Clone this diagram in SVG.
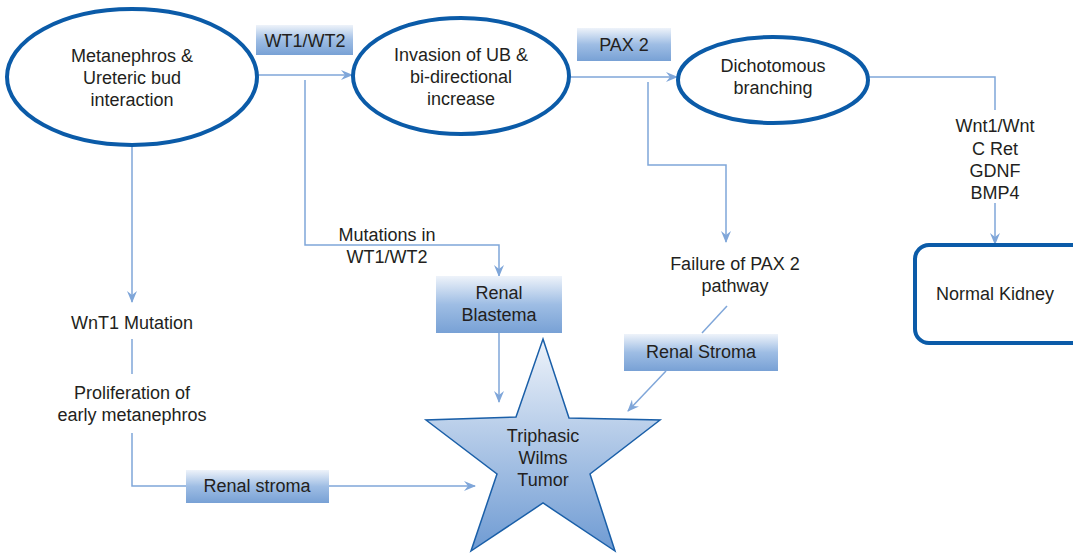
<svg xmlns="http://www.w3.org/2000/svg" width="1073" height="553" viewBox="0 0 1073 553">
<defs>
<linearGradient id="lbl" x1="0" y1="0" x2="0" y2="1">
<stop offset="0" stop-color="#eef3fa"/>
<stop offset="0.5" stop-color="#9ebde4"/>
<stop offset="1" stop-color="#78a1d5"/>
</linearGradient>
<linearGradient id="starg" x1="0" y1="0" x2="0" y2="1">
<stop offset="0" stop-color="#eef3fa"/>
<stop offset="1" stop-color="#6f9bd3"/>
</linearGradient>
<marker id="ah" viewBox="0 0 12 10" refX="11" refY="5" markerWidth="12" markerHeight="10" markerUnits="userSpaceOnUse" orient="auto">
<path d="M0,0 L12,5 L0,10 L4,5 Z" fill="#7fa6d9"/>
</marker>
<style>
text{font-family:"Liberation Sans",Arial,sans-serif;font-size:18px;fill:#231f20;text-anchor:middle}
.ell{fill:#fff;stroke:#0b5ba8;stroke-width:4}
.lbl{fill:url(#lbl)}
.c{fill:none;stroke:#7fa6d9;stroke-width:1.5}
.ca{fill:none;stroke:#7fa6d9;stroke-width:1.5;marker-end:url(#ah)}
</style>
</defs>
<rect width="1073" height="553" fill="#fff"/>
<g id="connectors">
<path class="ca" d="M257,75 H352"/>
<path class="ca" d="M305,80 V245 H499 V276"/>
<path class="ca" d="M499,333 V402"/>
<path class="ca" d="M569,77 H677"/>
<path class="ca" d="M648,82 V165 H726 V242"/>
<path class="c" d="M727,306 L702,333"/>
<path class="ca" d="M666,371 L628,411"/>
<path class="c" d="M868,77 H995 V110"/>
<path class="ca" d="M995,203 V244"/>
<path class="ca" d="M132,147 V302"/>
<path class="c" d="M132,339 V374"/>
<path class="c" d="M132,433 V486 H186"/>
<path class="ca" d="M329,486 H475"/>
</g>
<g id="n-metanephros">
<ellipse class="ell" cx="132" cy="77" rx="125" ry="68"/>
<text x="132" y="62">Metanephros &amp;</text>
<text x="132" y="84">Ureteric bud</text>
<text x="132" y="106">interaction</text>
</g>
<g id="n-invasion">
<ellipse class="ell" cx="461" cy="76" rx="108" ry="58"/>
<text x="461" y="61">Invasion of UB &amp;</text>
<text x="461" y="83">bi-directional</text>
<text x="461" y="105">increase</text>
</g>
<g id="n-dichotomous">
<ellipse class="ell" cx="773" cy="80" rx="95" ry="43"/>
<text x="773" y="72">Dichotomous</text>
<text x="773" y="94">branching</text>
</g>
<g id="n-normal-kidney">
<rect x="915" y="245" width="175" height="98" rx="14" fill="#fff" stroke="#0b5ba8" stroke-width="4"/>
<text x="995" y="300">Normal Kidney</text>
</g>
<g id="l-wt1">
<rect class="lbl" x="256" y="25" width="97" height="30"/>
<text x="305" y="47">WT1/WT2</text>
</g>
<g id="l-pax2">
<rect class="lbl" x="577" y="28" width="94" height="33"/>
<text x="624" y="51">PAX 2</text>
</g>
<g id="t-mutations">
<text x="387" y="241">Mutations in</text>
<text x="387" y="263">WT1/WT2</text>
</g>
<g id="l-blastema">
<rect class="lbl" x="436" y="276" width="126" height="57"/>
<text x="499" y="299">Renal</text>
<text x="499" y="321">Blastema</text>
</g>
<g id="t-failure">
<text x="735" y="270">Failure of PAX 2</text>
<text x="735" y="292">pathway</text>
</g>
<g id="l-renal-stroma-right">
<rect class="lbl" x="624" y="334" width="154" height="37"/>
<text x="701" y="358">Renal Stroma</text>
</g>
<g id="t-wnt">
<text x="995" y="132">Wnt1/Wnt</text>
<text x="995" y="155">C Ret</text>
<text x="995" y="177">GDNF</text>
<text x="995" y="199">BMP4</text>
</g>
<g id="t-wnt1-mutation">
<text x="132" y="329">WnT1 Mutation</text>
</g>
<g id="t-proliferation">
<text x="132" y="399">Proliferation of</text>
<text x="132" y="421">early metanephros</text>
</g>
<g id="l-renal-stroma-left">
<rect class="lbl" x="186" y="470" width="143" height="33"/>
<text x="257" y="492">Renal stroma</text>
</g>
<g id="n-wilms">
<polygon points="543,339 569,418 660,420 590,474 615,551 543,503 471,551 497,474 426,420 516,417" fill="url(#starg)" stroke="#1a5fa8" stroke-width="1.5" stroke-linejoin="miter"/>
<text x="543" y="442">Triphasic</text>
<text x="543" y="464">Wilms</text>
<text x="543" y="486">Tumor</text>
</g>
</svg>
